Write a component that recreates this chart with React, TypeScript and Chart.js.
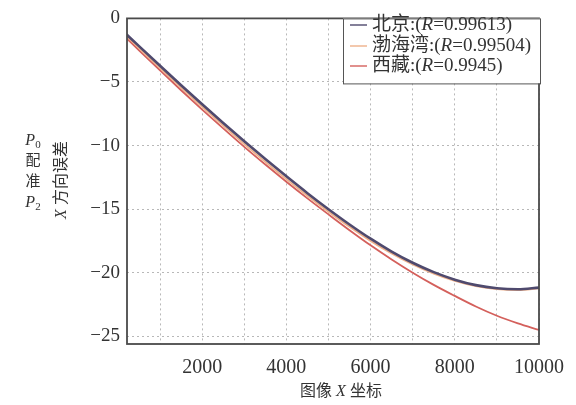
import React, { useEffect, useRef } from "react";
import { Chart, registerables } from "chart.js";

Chart.register(...registerables);

const xValues = [200, 500, 1000, 1500, 2000, 2500, 3000, 3500, 4000, 4500, 5000, 5500, 6000, 6500, 7000, 7500, 8000, 8500, 9000, 9500, 10000];
const beijing = [-1.25, -2.18, -3.72, -5.25, -6.75, -8.22, -9.66, -11.06, -12.42, -13.74, -15.0, -16.2, -17.32, -18.33, -19.21, -19.95, -20.54, -20.97, -21.22, -21.3, -21.17];
const bohai = [-1.4, -2.34, -3.9, -5.44, -6.95, -8.43, -9.88, -11.28, -12.64, -13.95, -15.2, -16.39, -17.5, -18.49, -19.35, -20.07, -20.64, -21.05, -21.29, -21.36, -21.22];
const tibet = [-1.55, -2.51, -4.09, -5.65, -7.17, -8.65, -10.1, -11.49, -12.84, -14.15, -15.41, -16.65, -17.84, -18.95, -19.99, -20.95, -21.82, -22.65, -23.38, -23.98, -24.5];

const seriesNames = ["北京", "渤海湾", "西藏"];
const rValues = ["0.99613", "0.99504", "0.9945"];
const seriesColors = ["#4f4a6e", "#eeb08a", "#d4605c"];
const seriesWidths = [2.6, 1.8, 1.8];

const xGridTicks = [1000, 2000, 3000, 4000, 5000, 6000, 7000, 8000, 9000, 10000];
const yGridTicks = [-25, -20, -15, -10, -5, 0];

const SERIF = '"Liberation Serif", "Noto Sans CJK SC", serif';
const TEXT = "#333333";

function drawRich(ctx: CanvasRenderingContext2D, parts: { t: string; italic?: boolean; size?: number; dy?: number }[], x: number, y: number, size: number, align: "left" | "center") {
  let total = 0;
  const fonts = parts.map((p) => `${p.italic ? "italic " : ""}${p.size ?? size}px ${SERIF}`);
  parts.forEach((p, i) => {
    ctx.font = fonts[i];
    total += ctx.measureText(p.t).width;
  });
  let cx = align === "center" ? x - total / 2 : x;
  ctx.textAlign = "left";
  parts.forEach((p, i) => {
    ctx.font = fonts[i];
    ctx.fillText(p.t, cx, y + (p.dy ?? 0));
    cx += ctx.measureText(p.t).width;
  });
}

const decorPlugin = {
  id: "decor",
  afterDraw(chart: any) {
    const ctx: CanvasRenderingContext2D = chart.ctx;
    const a = chart.chartArea;
    ctx.save();
    // plot frame
    ctx.strokeStyle = "#4a4a4a";
    ctx.lineWidth = 1.8;
    ctx.strokeRect(a.left, a.top, a.right - a.left, a.bottom - a.top);

    // legend box
    const bx = 343, by = a.top, bw = 197, bh = 65;
    ctx.fillStyle = "#ffffff";
    ctx.fillRect(bx, by, bw, bh);
    ctx.strokeStyle = "#555555";
    ctx.lineWidth = 1;
    ctx.strokeRect(bx + 0.5, by + 0.5, bw, bh);
    ctx.textBaseline = "middle";
    const rows = [25, 46, 66];
    seriesNames.forEach((name, i) => {
      const y = rows[i];
      ctx.strokeStyle = seriesColors[i];
      ctx.lineWidth = 1.4;
      ctx.beginPath();
      ctx.moveTo(350, y);
      ctx.lineTo(367, y);
      ctx.stroke();
      ctx.fillStyle = TEXT;
      drawRich(ctx, [{ t: name + ":(" }, { t: "R", italic: true }, { t: "=" + rValues[i] + ")" }], 372, y, 19, "left");
    });

    // x title
    ctx.fillStyle = TEXT;
    ctx.textBaseline = "middle";
    drawRich(ctx, [{ t: "图像 " }, { t: "X", italic: true }, { t: " 坐标" }], 341, 392, 16, "center");

    // y title rotated
    ctx.save();
    ctx.translate(62, 180);
    ctx.rotate(-Math.PI / 2);
    drawRich(ctx, [{ t: "X", italic: true }, { t: " 方向误差" }], 0, 0, 16, "center");
    ctx.restore();

    // left side stacked caption
    ctx.textBaseline = "middle";
    drawRich(ctx, [{ t: "P", italic: true }, { t: "0", size: 11, dy: 4 }], 33, 141, 16, "center");
    drawRich(ctx, [{ t: "配" }], 33, 161, 15, "center");
    drawRich(ctx, [{ t: "准" }], 33, 182, 15, "center");
    drawRich(ctx, [{ t: "P", italic: true }, { t: "2", size: 11, dy: 4 }], 33, 203, 16, "center");
    ctx.restore();
  },
};

export default function App() {
  const canvasRef = useRef<HTMLCanvasElement | null>(null);

  useEffect(() => {
    const canvas = canvasRef.current;
    if (!canvas) return;
    const mk = (arr: number[]) => xValues.map((x, i) => ({ x, y: arr[i] }));
    const all = [beijing, bohai, tibet];
    const chart = new Chart(canvas, {
      type: "line",
      data: {
        datasets: all.map((arr, i) => ({
          label: seriesNames[i],
          data: mk(arr),
          borderColor: seriesColors[i],
          borderWidth: seriesWidths[i],
          pointRadius: 0,
          fill: false,
          cubicInterpolationMode: "monotone" as const,
        })),
      },
      options: {
        animation: false,
        responsive: false,
        maintainAspectRatio: false,
        layout: { padding: { top: 12, right: 29, left: 0, bottom: 0 } },
        plugins: {
          legend: { display: false },
          tooltip: { enabled: false },
        },
        scales: {
          x: {
            type: "linear",
            min: 215,
            max: 10000,
            afterBuildTicks: (s: any) => {
              s.ticks = xGridTicks.map((v) => ({ value: v }));
            },
            afterFit: (s: any) => {
              s.height = 61;
            },
            border: { display: false, dash: [2, 3] },
            grid: { color: "#b8b8b8", drawTicks: false, lineWidth: 1 },
            ticks: {
              padding: 12,
              autoSkip: false,
              maxRotation: 0,
              color: TEXT,
              font: { family: SERIF, size: 20 },
              callback: (v: any) => (Number(v) % 2000 === 0 ? String(v) : ""),
            },
          },
          y: {
            type: "linear",
            min: -25.6,
            max: 0,
            afterBuildTicks: (s: any) => {
              s.ticks = yGridTicks.map((v) => ({ value: v }));
            },
            afterFit: (s: any) => {
              s.width = 127;
            },
            border: { display: false, dash: [2, 3] },
            grid: { color: "#b8b8b8", drawTicks: false, lineWidth: 1 },
            ticks: {
              padding: 7,
              color: TEXT,
              font: { family: SERIF, size: 19 },
              callback: (v: any) => (Number(v) === 0 ? "0" : "\u2212" + Math.abs(Number(v))),
            },
          },
        },
      },
      plugins: [decorPlugin],
    } as any);
    return () => chart.destroy();
  }, []);

  return (
    <div style={{ position: "fixed", left: 0, top: 0, width: 576, height: 405, background: "#ffffff" }}>
      <canvas ref={canvasRef} width={576} height={405} />
    </div>
  );
}
